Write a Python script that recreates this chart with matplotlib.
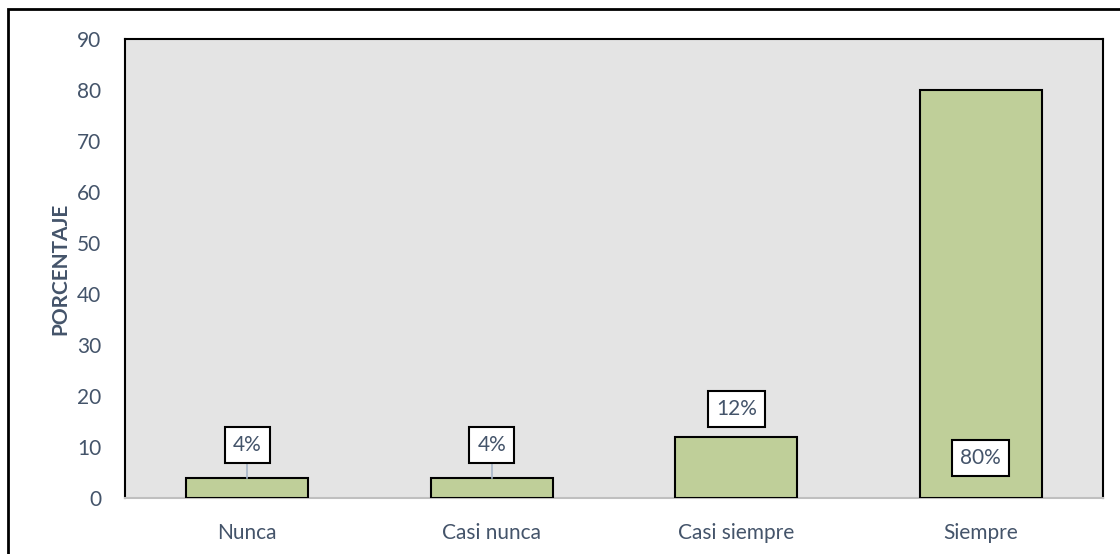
import matplotlib
matplotlib.use("Agg")
import matplotlib.pyplot as plt
from matplotlib.patches import Rectangle

categories = ["Nunca", "Casi nunca", "Casi siempre", "Siempre"]
values = [4, 4, 12, 80]
labels = ["4%", "4%", "12%", "80%"]
yticks = [0, 10, 20, 30, 40, 50, 60, 70, 80, 90]

plt.rcParams['font.family'] = ['Lato', 'DejaVu Sans']
txt = '#44546A'

fig = plt.figure(figsize=(11.2, 5.54), dpi=100)
ax = fig.add_axes([125/1120, 1-498/554, (1103-125)/1120, (498-39)/554])
ax.set_facecolor('#E4E4E4')
x = list(range(len(categories)))
ax.bar(x, values, width=0.5, color='#BFCF99', edgecolor='black', linewidth=1.5, zorder=3)
ax.set_xlim(-0.5, 3.5)
ax.set_ylim(0, 90)
ax.set_yticks(yticks)
ax.set_xticks(x)
ax.set_xticklabels(categories)
ax.tick_params(axis='both', length=0, colors=txt, labelsize=15)
ax.tick_params(axis='x', pad=18)
ax.tick_params(axis='y', pad=17)
for s in ['left', 'top', 'right']:
    ax.spines[s].set_color('black')
    ax.spines[s].set_linewidth(1.5)
ax.spines['bottom'].set_color('#BFBFBF')
ax.spines['bottom'].set_linewidth(1.5)
ax.set_ylabel('PORCENTAJE', color=txt, fontsize=15, fontweight='bold')
ax.yaxis.set_label_coords(-0.056, 0.5)

# label positions (data y of label center)
label_y = [10.4, 10.4, 17.5, 7.8]
box = dict(boxstyle='square,pad=0.38', facecolor='white', edgecolor='black', linewidth=1.5)
for i, (v, lab, ly) in enumerate(zip(values, labels, label_y)):
    ax.text(i, ly, lab, ha='center', va='center', fontsize=15, color=txt, bbox=box, zorder=5)
    if i < 2:
        ax.plot([i, i], [v, ly - 3.7], color='#A6B4C8', linewidth=1.2, zorder=4)

# outer border
fig.add_artist(Rectangle((8/1120, -0.05), 1.2, 1 - 9/554 + 0.05, transform=fig.transFigure,
                         fill=False, edgecolor='black', linewidth=2))

fig.savefig('out.png', dpi=100, facecolor='white')
